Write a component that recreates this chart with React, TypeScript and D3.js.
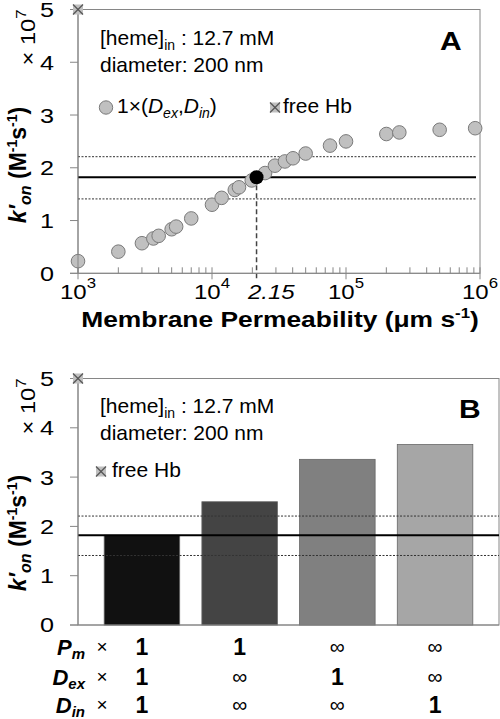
import React from "react";
import * as d3 from "d3";

const permeability = [1000, 2000, 3000, 3650, 4000, 5000, 5400, 7000, 10000, 11800, 14800, 15900, 19800, 24900, 29500, 35000, 40200, 50000, 76000, 100000, 200000, 250000, 500000, 920000];
const konA = [0.23, 0.41, 0.57, 0.66, 0.71, 0.835, 0.885, 1.04, 1.30, 1.43, 1.58, 1.63, 1.76, 1.90, 2.04, 2.12, 2.18, 2.27, 2.42, 2.50, 2.64, 2.67, 2.72, 2.75];
const markedP = 21500;
const markedK = 1.82;
const freeHb = 5.0;
const refMean = 1.82;
const refUpper = 2.21;
const refLower = 1.41;
const yTicks = [0, 1, 2, 3, 4, 5];
const xDecades = [3, 4, 5, 6];

const barCategories = ["c1", "c2", "c3", "c4"];
const barValues = [1.82, 2.5, 3.36, 3.66];
const barColors = ["#111111", "#444444", "#808080", "#a6a6a6"];
const rowPm = ["1", "1", "∞", "∞"];
const rowDex = ["1", "∞", "1", "∞"];
const rowDin = ["1", "∞", "∞", "1"];

const FONT = "Liberation Sans, Arial, Helvetica, sans-serif";
const AX = "#868686";

function FreeHbMarker({ x, y }: { x: number; y: number }) {
  const s = 5;
  return (
    <g>
      <rect x={x - s} y={y - s} width={2 * s} height={2 * s} fill="#c0c0c0" />
      <line x1={x - s} y1={y - s} x2={x + s} y2={y + s} stroke="#555" strokeWidth={1.2} />
      <line x1={x - s} y1={y + s} x2={x + s} y2={y - s} stroke="#555" strokeWidth={1.2} />
    </g>
  );
}

function YAxis({ y, left, labelY }: { y: d3.ScaleLinear<number, number>; left: number; labelY: number }) {
  return (
    <g>
      <line x1={left} x2={left} y1={y(0)} y2={y(5)} stroke={AX} />
      {yTicks.map((t) => (
        <g key={t}>
          <line x1={left - 8} x2={left} y1={y(t)} y2={y(t)} stroke={AX} />
          <text x={54} y={y(t) + 7.5} textAnchor="end" fontSize={21} fontFamily={FONT} transform={`translate(${54 * (1 - 1.2)},0) scale(1.2,1)`}>
            {t}
          </text>
        </g>
      ))}
      <text transform={`translate(35,${y(5) + 28}) rotate(-90)`} textAnchor="middle" fontSize={20} fontFamily={FONT} textLength={56} lengthAdjust="spacingAndGlyphs">
        × 10<tspan dy={-9} fontSize={14}>7</tspan>
      </text>
      <text transform={`translate(26,${labelY}) rotate(-90)`} textAnchor="middle" fontSize={23} fontWeight="bold" fontFamily={FONT}>
        <tspan fontStyle="italic">k′</tspan>
        <tspan fontStyle="italic" fontSize={16} dy={5}>on</tspan>
        <tspan dy={-5}> (M</tspan>
        <tspan fontSize={14} dy={-9}>-1</tspan>
        <tspan dy={9}>s</tspan>
        <tspan fontSize={14} dy={-9}>-1</tspan>
        <tspan dy={9}>)</tspan>
      </text>
    </g>
  );
}

function RefLines({ x1, x2, y }: { x1: number; x2: number; y: d3.ScaleLinear<number, number> }) {
  return (
    <g>
      <line x1={x1} x2={x2} y1={y(refUpper)} y2={y(refUpper)} stroke="#333" strokeWidth={1} strokeDasharray="2,1.5" />
      <line x1={x1} x2={x2} y1={y(refLower)} y2={y(refLower)} stroke="#333" strokeWidth={1} strokeDasharray="2,1.5" />
      <line x1={x1} x2={x2} y1={y(refMean)} y2={y(refMean)} stroke="#000" strokeWidth={2} />
    </g>
  );
}

function HemeText({ top }: { top: number }) {
  return (
    <g fontFamily={FONT} fontSize={21}>
      <text x={100} y={top}>
        [heme]<tspan fontSize={14} dy={5}>in</tspan>
        <tspan dy={-5}> : 12.7 mM</tspan>
      </text>
      <text x={100} y={top + 27}>diameter: 200 nm</text>
    </g>
  );
}

export default function App() {
  // Panel A
  const aLeft = 78, aRight = 480, aTop = 9.5, aBottom = 273.3;
  const xA = d3.scaleLog().domain([1e3, 1e6]).range([aLeft, aRight]);
  const yA = d3.scaleLinear().domain([0, 5]).range([aBottom, aTop]);
  const minor: number[] = [];
  for (let d = 3; d < 6; d++) for (let m = 2; m <= 9; m++) minor.push(m * Math.pow(10, d));

  // Panel B
  const bLeft = 78, bRight = 499, bTop = 378.5, bBottom = 625;
  const yB = d3.scaleLinear().domain([0, 5]).range([bBottom, bTop]);
  const xB = d3.scaleBand<string>().domain(barCategories).range([bLeft, bRight]).paddingInner(0.227).paddingOuter(0.268);

  const rows = [
    { main: "P", sub: "m", vals: rowPm, y: 655 },
    { main: "D", sub: "ex", vals: rowDex, y: 685 },
    { main: "D", sub: "in", vals: rowDin, y: 713 },
  ];

  return (
    <svg width={500} height={719} style={{ position: "absolute", left: 0, top: 0, background: "#fff" }} fontFamily={FONT}>
      <rect width={500} height={719} fill="#fff" />
      {/* ===== Panel A ===== */}
      <rect x={aLeft} y={aTop} width={aRight - aLeft} height={aBottom - aTop} fill="none" stroke={AX} />
      <HemeText top={45} />
      <text x={440} y={50} fontSize={25} fontWeight="bold" transform={`translate(${440 * (1 - 1.2)},0) scale(1.2,1)`}>A</text>
      <circle cx={106} cy={107.5} r={6.7} fill="#c0c0c0" stroke="#7a7a7a" />
      <text x={117} y={113} fontSize={21}>
        1×(<tspan fontStyle="italic">D</tspan>
        <tspan fontStyle="italic" fontSize={14} dy={5}>ex</tspan>
        <tspan dy={-5}>,</tspan>
        <tspan fontStyle="italic">D</tspan>
        <tspan fontStyle="italic" fontSize={14} dy={5}>in</tspan>
        <tspan dy={-5}>)</tspan>
      </text>
      <FreeHbMarker x={275} y={107.5} />
      <text x={283} y={113} fontSize={21}>free Hb</text>

      <RefLines x1={aLeft} x2={aRight - 4} y={yA} />
      <line x1={xA(markedP)} x2={xA(markedP)} y1={yA(markedK)} y2={aBottom + 8} stroke="#444" strokeWidth={1.5} strokeDasharray="5,3" />

      {/* x axis */}
      <line x1={aLeft - 8} x2={aRight} y1={aBottom} y2={aBottom} stroke={AX} />
      {minor.map((m) => (
        <line key={m} x1={xA(m)} x2={xA(m)} y1={aBottom - 6} y2={aBottom} stroke={AX} />
      ))}
      {xDecades.map((d) => (
        <g key={d}>
          <line x1={xA(Math.pow(10, d))} x2={xA(Math.pow(10, d))} y1={aBottom - 6} y2={aBottom + 6} stroke={AX} />
          <text x={xA(Math.pow(10, d))} y={299} textAnchor="middle" fontSize={20} transform={`translate(${xA(Math.pow(10, d)) * (1 - 1.2)},0) scale(1.2,1)`}>
            <tspan>10</tspan>
            <tspan fontSize={14} dy={-11}>{d}</tspan>
          </text>
        </g>
      ))}
      <text x={248} y={299} textAnchor="start" fontSize={20} fontStyle="italic" transform={`translate(${248 * (1 - 1.2)},0) scale(1.2,1)`}>2.15</text>
      <text x={280} y={327} textAnchor="middle" fontSize={22} fontWeight="bold" transform={`translate(${280 * (1 - 1.2)},0) scale(1.2,1)`}>
        Membrane Permeability (μm s<tspan fontSize={14} dy={-9}>-1</tspan>
        <tspan dy={9}>)</tspan>
      </text>

      {permeability.map((p, i) => (
        <circle key={i} cx={xA(p)} cy={yA(konA[i])} r={6.8} fill="#c0c0c0" stroke="#7a7a7a" />
      ))}
      <circle cx={xA(markedP)} cy={yA(markedK)} r={7} fill="#000" />
      <YAxis y={yA} left={aLeft} labelY={165} />
      <FreeHbMarker x={aLeft} y={yA(freeHb)} />

      {/* ===== Panel B ===== */}
      <rect x={bLeft} y={bTop} width={bRight - bLeft} height={bBottom - bTop} fill="none" stroke={AX} />
      <HemeText top={413} />
      <text x={459} y={418} fontSize={25} fontWeight="bold" transform={`translate(${459 * (1 - 1.2)},0) scale(1.2,1)`}>B</text>
      <FreeHbMarker x={101} y={471.5} />
      <text x={112} y={477} fontSize={21}>free Hb</text>

      {barCategories.map((c, i) => (
        <rect key={c} x={xB(c)} y={yB(barValues[i])} width={xB.bandwidth()} height={bBottom - yB(barValues[i])} fill={barColors[i]} stroke="#666" strokeWidth={0.8} />
      ))}
      <RefLines x1={bLeft} x2={bRight} y={yB} />
      <line x1={bLeft - 8} x2={bRight} y1={bBottom} y2={bBottom} stroke={AX} />
      <YAxis y={yB} left={bLeft} labelY={533} />
      <FreeHbMarker x={bLeft} y={yB(freeHb)} />

      {rows.map((r) => (
        <g key={r.main + r.sub}>
          <text x={85} y={r.y} textAnchor="end" fontSize={22} fontWeight="bold" fontStyle="italic">
            {r.main}
            <tspan fontSize={15} dy={4}>{r.sub}</tspan>
          </text>
          <text x={102} y={r.y - 2} textAnchor="middle" fontSize={19}>×</text>
          {r.vals.map((v, i) => (
            <text key={i} x={xB(barCategories[i])! + xB.bandwidth() / 2} y={v === "1" ? r.y : r.y - 1} textAnchor="middle" fontSize={v === "1" ? 23 : 21} fontWeight={v === "1" ? "bold" : "normal"}>
              {v}
            </text>
          ))}
        </g>
      ))}
    </svg>
  );
}
